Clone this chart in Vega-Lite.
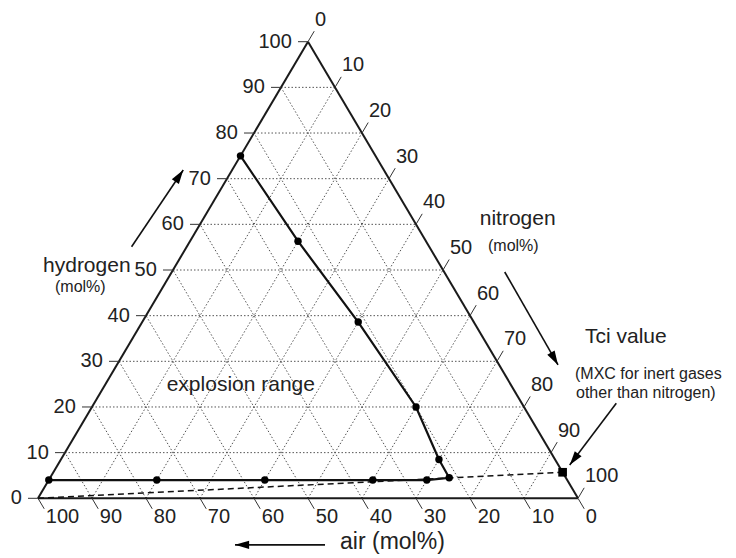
{
  "$schema": "https://vega.github.io/schema/vega-lite/v6.json",
  "width": 736,
  "height": 558,
  "autosize": {"type": "none"},
  "padding": 0,
  "background": "white",
  "config": {"view": {"stroke": null}, "font": "Liberation Sans"},
  "datasets": {
    "ticks": [
      {"axis": "H", "v": 0}, {"axis": "H", "v": 10}, {"axis": "H", "v": 20}, {"axis": "H", "v": 30}, {"axis": "H", "v": 40}, {"axis": "H", "v": 50}, {"axis": "H", "v": 60}, {"axis": "H", "v": 70}, {"axis": "H", "v": 80}, {"axis": "H", "v": 90}, {"axis": "H", "v": 100},
      {"axis": "N", "v": 0}, {"axis": "N", "v": 10}, {"axis": "N", "v": 20}, {"axis": "N", "v": 30}, {"axis": "N", "v": 40}, {"axis": "N", "v": 50}, {"axis": "N", "v": 60}, {"axis": "N", "v": 70}, {"axis": "N", "v": 80}, {"axis": "N", "v": 90}, {"axis": "N", "v": 100},
      {"axis": "A", "v": 0}, {"axis": "A", "v": 10}, {"axis": "A", "v": 20}, {"axis": "A", "v": 30}, {"axis": "A", "v": 40}, {"axis": "A", "v": 50}, {"axis": "A", "v": 60}, {"axis": "A", "v": 70}, {"axis": "A", "v": 80}, {"axis": "A", "v": 90}, {"axis": "A", "v": 100}
    ],
    "boundary": [
      {"i": 1, "hydrogen": 75, "nitrogen": 0},
      {"i": 2, "hydrogen": 56.3, "nitrogen": 20},
      {"i": 3, "hydrogen": 38.6, "nitrogen": 40},
      {"i": 4, "hydrogen": 20, "nitrogen": 60},
      {"i": 5, "hydrogen": 8.5, "nitrogen": 70},
      {"i": 6, "hydrogen": 4.5, "nitrogen": 73.9},
      {"i": 7, "hydrogen": 4, "nitrogen": 70},
      {"i": 8, "hydrogen": 4, "nitrogen": 60},
      {"i": 9, "hydrogen": 4, "nitrogen": 40},
      {"i": 10, "hydrogen": 4, "nitrogen": 20},
      {"i": 11, "hydrogen": 4, "nitrogen": 0}
    ],
    "mixing": [
      {"i": 1, "hydrogen": 0, "nitrogen": 0},
      {"i": 2, "hydrogen": 5.7, "nitrogen": 94.3}
    ],
    "tci": [
      {"hydrogen": 5.7, "nitrogen": 94.3}
    ],
    "notes": [
      {"role": "title", "text": "hydrogen", "x": 0.93, "y": 50.88},
      {"role": "unit", "text": "(mol%)", "x": 3.15, "y": 46.3},
      {"role": "title", "text": "nitrogen", "x": 81.8, "y": 61.17},
      {"role": "unit", "text": "(mol%)", "x": 83.33, "y": 55.26},
      {"role": "title", "text": "Tci value", "x": 101.3, "y": 35.37},
      {"role": "unit", "text": "(MXC for inert gases", "x": 99.44, "y": 27.33},
      {"role": "unit", "text": "other than nitrogen)", "x": 99.63, "y": 23.17},
      {"role": "title", "text": "explosion range", "x": 23.83, "y": 24.81},
      {"role": "axis", "text": "air (mol%)", "x": 55.93, "y": -9.57}
    ],
    "arrows": [
      {"name": "hydrogen", "x": 17.33, "y": 55.1, "x2": 26.9, "y2": 71.9},
      {"name": "nitrogen", "x": 86.43, "y": 49.56, "x2": 96.3, "y2": 29.2},
      {"name": "tci", "x": 107.09, "y": 20.8, "x2": 98.46, "y2": 7.29},
      {"name": "air", "x": 53.15, "y": -10.2, "x2": 36.48, "y2": -10.2}
    ]
  },
  "layer": [
    {
      "data": {"name": "ticks"},
      "transform": [
        {"filter": "datum.v > 0 && datum.v < 100"},
        {"calculate": "datum.axis == 'H' ? datum.v : 0", "as": "h1"},
        {"calculate": "datum.axis == 'H' ? 0 : (datum.axis == 'N' ? datum.v : 100 - datum.v)", "as": "n1"},
        {"calculate": "datum.axis == 'H' ? datum.v : 100 - datum.v", "as": "h2"},
        {"calculate": "datum.axis == 'H' ? 100 - datum.v : (datum.axis == 'N' ? datum.v : 0)", "as": "n2"},
        {"calculate": "datum.n1 + datum.h1 / 2", "as": "px"},
        {"calculate": "datum.h1", "as": "py"},
        {"calculate": "datum.n2 + datum.h2 / 2", "as": "px2"},
        {"calculate": "datum.h2", "as": "py2"}
      ],
      "mark": {"type": "rule", "color": "#555555", "strokeWidth": 1, "strokeDash": [1.5, 2]},
      "encoding": {
        "x": {"field": "px", "type": "quantitative", "scale": {"domain": [-7.037, 129.259], "nice": false, "zero": false}, "axis": null},
        "y": {"field": "py", "type": "quantitative", "scale": {"domain": [-13.075, 109.133], "nice": false, "zero": false}, "axis": null},
        "x2": {"field": "px2"},
        "y2": {"field": "py2"}
      }
    },
    {
      "data": {"name": "ticks"},
      "transform": [
        {"filter": "datum.v == 0"},
        {"calculate": "datum.axis == 'H' ? datum.v : 0", "as": "h1"},
        {"calculate": "datum.axis == 'H' ? 0 : (datum.axis == 'N' ? datum.v : 100 - datum.v)", "as": "n1"},
        {"calculate": "datum.axis == 'H' ? datum.v : 100 - datum.v", "as": "h2"},
        {"calculate": "datum.axis == 'H' ? 100 - datum.v : (datum.axis == 'N' ? datum.v : 0)", "as": "n2"},
        {"calculate": "datum.n1 + datum.h1 / 2", "as": "px"},
        {"calculate": "datum.h1", "as": "py"},
        {"calculate": "datum.n2 + datum.h2 / 2", "as": "px2"},
        {"calculate": "datum.h2", "as": "py2"}
      ],
      "mark": {"type": "rule", "color": "#1a1a1a", "strokeWidth": 2},
      "encoding": {
        "x": {"field": "px", "type": "quantitative", "scale": {"domain": [-7.037, 129.259], "nice": false, "zero": false}, "axis": null},
        "y": {"field": "py", "type": "quantitative", "scale": {"domain": [-13.075, 109.133], "nice": false, "zero": false}, "axis": null},
        "x2": {"field": "px2"},
        "y2": {"field": "py2"}
      }
    },
    {
      "data": {"name": "ticks"},
      "transform": [
        {"calculate": "datum.axis == 'H' ? datum.v : (datum.axis == 'N' ? 100 - datum.v : 0)", "as": "hb"},
        {"calculate": "datum.axis == 'H' ? 0 : (datum.axis == 'N' ? datum.v : 100 - datum.v)", "as": "nb"},
        {"calculate": "datum.axis == 'H' ? datum.v : (datum.axis == 'N' ? 102.3 - datum.v : -2.3)", "as": "he"},
        {"calculate": "datum.axis == 'H' ? -1.85 : (datum.axis == 'N' ? datum.v : 102.3 - datum.v)", "as": "ne"},
        {"calculate": "datum.nb + datum.hb / 2", "as": "px"},
        {"calculate": "datum.hb", "as": "py"},
        {"calculate": "datum.ne + datum.he / 2", "as": "px2"},
        {"calculate": "datum.he", "as": "py2"}
      ],
      "mark": {"type": "rule", "color": "#333333", "strokeWidth": 1},
      "encoding": {
        "x": {"field": "px", "type": "quantitative", "scale": {"domain": [-7.037, 129.259], "nice": false, "zero": false}, "axis": null},
        "y": {"field": "py", "type": "quantitative", "scale": {"domain": [-13.075, 109.133], "nice": false, "zero": false}, "axis": null},
        "x2": {"field": "px2"},
        "y2": {"field": "py2"}
      }
    },
    {
      "data": {"name": "ticks"},
      "transform": [
        {"filter": "datum.axis == 'H'"},
        {"calculate": "-3 + datum.v / 2", "as": "px"},
        {"calculate": "datum.v", "as": "py"}
      ],
      "mark": {"type": "text", "align": "right", "baseline": "middle", "fontSize": 20, "color": "#222222"},
      "encoding": {
        "x": {"field": "px", "type": "quantitative", "scale": {"domain": [-7.037, 129.259], "nice": false, "zero": false}, "axis": null},
        "y": {"field": "py", "type": "quantitative", "scale": {"domain": [-13.075, 109.133], "nice": false, "zero": false}, "axis": null},
        "text": {"field": "v", "type": "quantitative", "format": "d"}
      }
    },
    {
      "data": {"name": "ticks"},
      "transform": [
        {"filter": "datum.axis == 'N'"},
        {"calculate": "datum.v + (104.8 - datum.v) / 2", "as": "px"},
        {"calculate": "104.8 - datum.v", "as": "py"}
      ],
      "mark": {"type": "text", "align": "left", "baseline": "middle", "dx": -6, "fontSize": 20, "color": "#222222"},
      "encoding": {
        "x": {"field": "px", "type": "quantitative", "scale": {"domain": [-7.037, 129.259], "nice": false, "zero": false}, "axis": null},
        "y": {"field": "py", "type": "quantitative", "scale": {"domain": [-13.075, 109.133], "nice": false, "zero": false}, "axis": null},
        "text": {"field": "v", "type": "quantitative", "format": "d"}
      }
    },
    {
      "data": {"name": "ticks"},
      "transform": [
        {"filter": "datum.axis == 'A'"},
        {"calculate": "104 - datum.v - 2", "as": "px"},
        {"calculate": "-4", "as": "py"}
      ],
      "mark": {"type": "text", "align": "left", "baseline": "middle", "dx": -3, "fontSize": 20, "color": "#222222"},
      "encoding": {
        "x": {"field": "px", "type": "quantitative", "scale": {"domain": [-7.037, 129.259], "nice": false, "zero": false}, "axis": null},
        "y": {"field": "py", "type": "quantitative", "scale": {"domain": [-13.075, 109.133], "nice": false, "zero": false}, "axis": null},
        "text": {"field": "v", "type": "quantitative", "format": "d"}
      }
    },
    {
      "data": {"name": "mixing"},
      "transform": [
        {"calculate": "datum.nitrogen + datum.hydrogen / 2", "as": "px"},
        {"calculate": "datum.hydrogen", "as": "py"}
      ],
      "mark": {"type": "line", "color": "#111111", "strokeWidth": 1.5, "strokeDash": [6, 4]},
      "encoding": {
        "x": {"field": "px", "type": "quantitative", "scale": {"domain": [-7.037, 129.259], "nice": false, "zero": false}, "axis": null},
        "y": {"field": "py", "type": "quantitative", "scale": {"domain": [-13.075, 109.133], "nice": false, "zero": false}, "axis": null},
        "order": {"field": "i", "type": "quantitative"}
      }
    },
    {
      "data": {"name": "boundary"},
      "transform": [
        {"calculate": "datum.nitrogen + datum.hydrogen / 2", "as": "px"},
        {"calculate": "datum.hydrogen", "as": "py"}
      ],
      "mark": {"type": "line", "color": "#111111", "strokeWidth": 2.2},
      "encoding": {
        "x": {"field": "px", "type": "quantitative", "scale": {"domain": [-7.037, 129.259], "nice": false, "zero": false}, "axis": null},
        "y": {"field": "py", "type": "quantitative", "scale": {"domain": [-13.075, 109.133], "nice": false, "zero": false}, "axis": null},
        "order": {"field": "i", "type": "quantitative"}
      }
    },
    {
      "data": {"name": "boundary"},
      "transform": [
        {"calculate": "datum.nitrogen + datum.hydrogen / 2", "as": "px"},
        {"calculate": "datum.hydrogen", "as": "py"}
      ],
      "mark": {"type": "point", "shape": "circle", "filled": true, "color": "#000000", "size": 55, "opacity": 1},
      "encoding": {
        "x": {"field": "px", "type": "quantitative", "scale": {"domain": [-7.037, 129.259], "nice": false, "zero": false}, "axis": null},
        "y": {"field": "py", "type": "quantitative", "scale": {"domain": [-13.075, 109.133], "nice": false, "zero": false}, "axis": null}
      }
    },
    {
      "data": {"name": "tci"},
      "transform": [
        {"calculate": "datum.nitrogen + datum.hydrogen / 2", "as": "px"},
        {"calculate": "datum.hydrogen", "as": "py"}
      ],
      "mark": {"type": "point", "shape": "square", "filled": true, "color": "#000000", "size": 75, "opacity": 1},
      "encoding": {
        "x": {"field": "px", "type": "quantitative", "scale": {"domain": [-7.037, 129.259], "nice": false, "zero": false}, "axis": null},
        "y": {"field": "py", "type": "quantitative", "scale": {"domain": [-13.075, 109.133], "nice": false, "zero": false}, "axis": null}
      }
    },
    {
      "data": {"name": "arrows"},
      "mark": {"type": "rule", "color": "#111111", "strokeWidth": 1.6},
      "encoding": {
        "x": {"field": "x", "type": "quantitative", "scale": {"domain": [-7.037, 129.259], "nice": false, "zero": false}, "axis": null},
        "y": {"field": "y", "type": "quantitative", "scale": {"domain": [-13.075, 109.133], "nice": false, "zero": false}, "axis": null},
        "x2": {"field": "x2"},
        "y2": {"field": "y2"}
      }
    },
    {
      "data": {"name": "arrows"},
      "transform": [{"filter": "datum.name == 'hydrogen'"}],
      "mark": {"type": "point", "shape": "M0,0L-0.6,2L0.6,2Z", "filled": true, "color": "#000000", "size": 200, "opacity": 1, "angle": 34},
      "encoding": {
        "x": {"field": "x2", "type": "quantitative", "scale": {"domain": [-7.037, 129.259], "nice": false, "zero": false}, "axis": null},
        "y": {"field": "y2", "type": "quantitative", "scale": {"domain": [-13.075, 109.133], "nice": false, "zero": false}, "axis": null}
      }
    },
    {
      "data": {"name": "arrows"},
      "transform": [{"filter": "datum.name == 'nitrogen'"}],
      "mark": {"type": "point", "shape": "M0,0L-0.6,2L0.6,2Z", "filled": true, "color": "#000000", "size": 200, "opacity": 1, "angle": 150},
      "encoding": {
        "x": {"field": "x2", "type": "quantitative", "scale": {"domain": [-7.037, 129.259], "nice": false, "zero": false}, "axis": null},
        "y": {"field": "y2", "type": "quantitative", "scale": {"domain": [-13.075, 109.133], "nice": false, "zero": false}, "axis": null}
      }
    },
    {
      "data": {"name": "arrows"},
      "transform": [{"filter": "datum.name == 'tci'"}],
      "mark": {"type": "point", "shape": "M0,0L-0.6,2L0.6,2Z", "filled": true, "color": "#000000", "size": 200, "opacity": 1, "angle": 217},
      "encoding": {
        "x": {"field": "x2", "type": "quantitative", "scale": {"domain": [-7.037, 129.259], "nice": false, "zero": false}, "axis": null},
        "y": {"field": "y2", "type": "quantitative", "scale": {"domain": [-13.075, 109.133], "nice": false, "zero": false}, "axis": null}
      }
    },
    {
      "data": {"name": "arrows"},
      "transform": [{"filter": "datum.name == 'air'"}],
      "mark": {"type": "point", "shape": "M0,0L-0.6,2L0.6,2Z", "filled": true, "color": "#000000", "size": 200, "opacity": 1, "angle": 270},
      "encoding": {
        "x": {"field": "x2", "type": "quantitative", "scale": {"domain": [-7.037, 129.259], "nice": false, "zero": false}, "axis": null},
        "y": {"field": "y2", "type": "quantitative", "scale": {"domain": [-13.075, 109.133], "nice": false, "zero": false}, "axis": null}
      }
    },
    {
      "data": {"name": "notes"},
      "transform": [{"filter": "datum.role == 'title'"}],
      "mark": {"type": "text", "align": "left", "baseline": "middle", "fontSize": 21, "color": "#222222"},
      "encoding": {
        "x": {"field": "x", "type": "quantitative", "scale": {"domain": [-7.037, 129.259], "nice": false, "zero": false}, "axis": null},
        "y": {"field": "y", "type": "quantitative", "scale": {"domain": [-13.075, 109.133], "nice": false, "zero": false}, "axis": null},
        "text": {"field": "text"}
      }
    },
    {
      "data": {"name": "notes"},
      "transform": [{"filter": "datum.role == 'unit'"}],
      "mark": {"type": "text", "align": "left", "baseline": "middle", "fontSize": 16, "color": "#222222"},
      "encoding": {
        "x": {"field": "x", "type": "quantitative", "scale": {"domain": [-7.037, 129.259], "nice": false, "zero": false}, "axis": null},
        "y": {"field": "y", "type": "quantitative", "scale": {"domain": [-13.075, 109.133], "nice": false, "zero": false}, "axis": null},
        "text": {"field": "text"}
      }
    },
    {
      "data": {"name": "notes"},
      "transform": [{"filter": "datum.role == 'axis'"}],
      "mark": {"type": "text", "align": "left", "baseline": "middle", "fontSize": 23, "color": "#222222"},
      "encoding": {
        "x": {"field": "x", "type": "quantitative", "scale": {"domain": [-7.037, 129.259], "nice": false, "zero": false}, "axis": null},
        "y": {"field": "y", "type": "quantitative", "scale": {"domain": [-13.075, 109.133], "nice": false, "zero": false}, "axis": null},
        "text": {"field": "text"}
      }
    }
  ]
}
